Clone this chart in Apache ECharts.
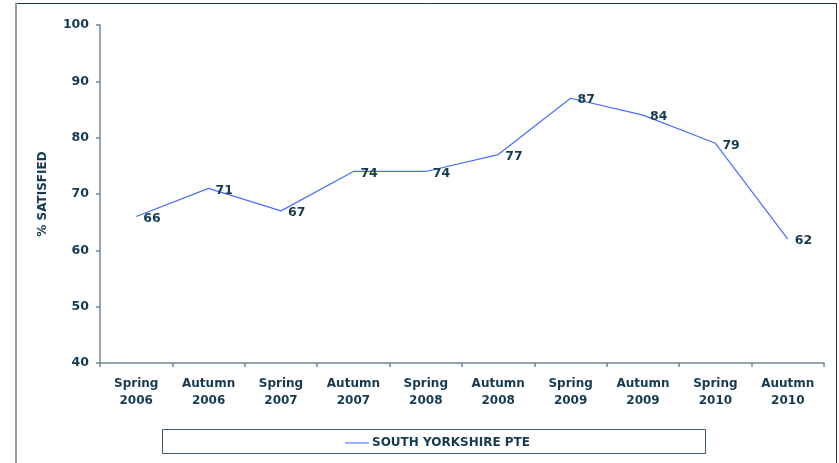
<!DOCTYPE html>
<html>
<head>
<meta charset="utf-8">
<script src="https://cdn.jsdelivr.net/npm/echarts@6/dist/echarts.min.js"></script>
<style>
  html, body { margin: 0; padding: 0; background: #ffffff; }
  #chart { width: 839px; height: 463px; }
</style>
</head>
<body>
<div id="chart"></div>
<script>
// Survey periods along the x axis
const periods = ['Spring\n2006', 'Autumn\n2006', 'Spring\n2007', 'Autumn\n2007', 'Spring\n2008',
                 'Autumn\n2008', 'Spring\n2009', 'Autumn\n2009', 'Spring\n2010', 'Auutmn\n2010'];
// Percentage of passengers satisfied
const satisfied = [66, 71, 67, 74, 74, 77, 87, 84, 79, 62];
const seriesName = 'SOUTH YORKSHIRE PTE';
const yMin = 40, yMax = 100, yStep = 10;

const textColor = '#153a52';
const axisColor = '#6f8796';
const font = 'DejaVu Sans';

const chart = echarts.init(document.getElementById('chart'), null, { renderer: 'canvas' });
chart.setOption({
  animation: false,
  backgroundColor: '#ffffff',
  textStyle: { fontFamily: font },
  graphic: [
    // outer frame
    { type: 'rect', silent: true, shape: { x: 16.5, y: 3.5, width: 820, height: 480 },
      style: { fill: 'none', stroke: '#17324a', lineWidth: 1 } },
    { type: 'line', silent: true, shape: { x1: 16, y1: 3, x2: 16, y2: 463 },
      style: { stroke: '#8aa0ac', lineWidth: 2 } },
    // legend box
    { type: 'rect', silent: true, shape: { x: 162.5, y: 429.5, width: 543, height: 24 },
      style: { fill: 'none', stroke: '#3e5a6c', lineWidth: 1 } }
  ],
  grid: { left: 100, right: 15, top: 25, bottom: 100, containLabel: false },
  legend: {
    left: 340, top: 432,
    itemWidth: 24, itemHeight: 2, itemGap: 4,
    textStyle: { color: textColor, fontWeight: 'bold', fontSize: 12, fontFamily: font, padding: [0, 0, 0, -2] },
    data: [{ name: seriesName, icon: 'rect', itemStyle: { color: '#9db0ff' } }]
  },
  xAxis: {
    type: 'category',
    data: periods,
    boundaryGap: true,
    axisLine: { lineStyle: { color: axisColor, width: 1.5 } },
    axisTick: { show: true, alignWithLabel: false, length: 4, lineStyle: { color: axisColor, width: 1.5 } },
    axisLabel: { color: textColor, fontWeight: 'bold', fontSize: 12, lineHeight: 16.5, margin: 13, interval: 0 }
  },
  yAxis: {
    type: 'value',
    min: yMin, max: yMax, interval: yStep,
    name: '% SATISFIED',
    nameLocation: 'middle',
    nameGap: 51,
    nameRotate: 90,
    nameTextStyle: { color: textColor, fontWeight: 'bold', fontSize: 12 },
    axisLine: { show: true, lineStyle: { color: axisColor, width: 1.5 } },
    axisTick: { show: true, length: 4, lineStyle: { color: axisColor, width: 1.5 } },
    splitLine: { show: false },
    axisLabel: { color: textColor, fontWeight: 'bold', fontSize: 12.5, margin: 11 }
  },
  series: [{
    name: seriesName,
    type: 'line',
    data: satisfied,
    symbol: 'circle',
    symbolSize: 0,
    lineStyle: { color: '#4a6dff', width: 1.2 },
    itemStyle: { color: '#4a6dff' },
    label: {
      show: true, position: 'right', distance: 7, offset: [0, 2],
      color: textColor, fontWeight: 'bold', fontSize: 12.5
    }
  }]
});
</script>
</body>
</html>
